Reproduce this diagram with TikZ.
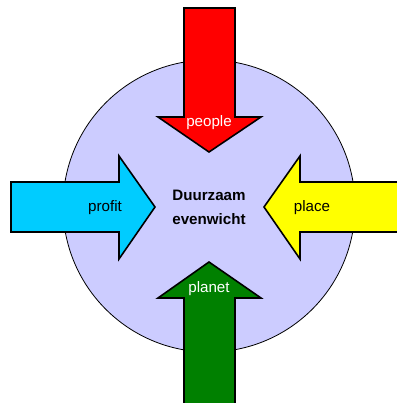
\documentclass[tikz,border=0pt]{standalone}
\usepackage{fontspec}
\setmainfont{Liberation Sans}
\begin{document}
\begin{tikzpicture}[x=1bp,y=-1bp,
  arrowshape/.style={draw=black,line width=1.6bp,line join=miter},
  lbl/.style={inner sep=0pt,font=\fontsize{15.2}{18}\selectfont},
  ctr/.style={inner sep=0pt,align=center,font=\fontsize{15.2}{24}\selectfont\bfseries}]
\useasboundingbox (0,0) rectangle (397,403);
\definecolor{lav}{HTML}{CCCCFF}
\definecolor{rd}{HTML}{FF0000}
\definecolor{cy}{HTML}{00CCFF}
\definecolor{yl}{HTML}{FFFF00}
\definecolor{gr}{HTML}{008000}
\fill[lav,draw=black,line width=0.8bp] (209,206) circle (146);
% people (down)
\path[arrowshape,fill=rd] (184,8) -- (235,8) -- (235,117) -- (261,117) -- (209,152) -- (158,117) -- (184,117) -- cycle;
% planet (up)
\path[arrowshape,fill=gr] (184,410) -- (235,410) -- (235,298) -- (261,298) -- (209,262) -- (158,298) -- (184,298) -- cycle;
% profit (right)
\path[arrowshape,fill=cy] (11,182) -- (119,182) -- (119,156) -- (155,207) -- (119,259) -- (119,232) -- (11,232) -- cycle;
% place (left)
\path[arrowshape,fill=yl] (405,182) -- (300,182) -- (300,156) -- (264,207) -- (300,259) -- (300,232) -- (405,232) -- cycle;
\node[lbl,text=white] (people) at (209,123) {people};
\node[lbl,text=white] (planet) at (209,289) {planet};
\node[lbl] (profit) at (105,208) {profit};
\node[lbl] (place) at (312,208) {place};
\node[ctr] (centre) at (209,207) {Duurzaam\\evenwicht};
\end{tikzpicture}
\end{document}
